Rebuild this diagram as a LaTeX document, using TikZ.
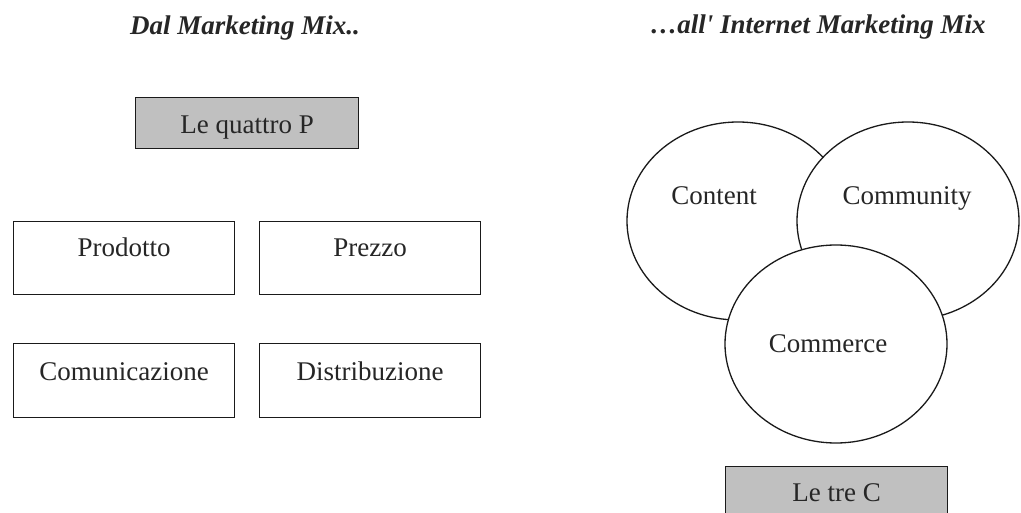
\documentclass[tikz,border=0pt]{standalone}
\usepackage{fontspec}
\setmainfont{Liberation Serif}
\usetikzlibrary{shapes.geometric}
\definecolor{boxgray}{HTML}{C0C0C0}
\definecolor{inkline}{HTML}{1A1A1A}
\begin{document}
\begin{tikzpicture}[x=1bp, y=-1bp,
  every node/.style={font=\fontsize{27bp}{32bp}\selectfont, text=black!85},
  title/.style={anchor=base, font=\fontsize{27bp}{32bp}\selectfont\bfseries\itshape},
  pbox/.style={draw=inkline, line width=1.3bp, inner sep=0pt, anchor=north west,
    minimum width=221bp, text height=35bp, text depth=38bp},
  graybox/.style={pbox, fill=boxgray, minimum width=223bp},
  ring/.style={ellipse, draw=inkline, line width=1.3bp, fill=white, inner sep=0pt,
    minimum width=222bp, minimum height=198bp},
  lbl/.style={anchor=base, inner sep=0pt}]
  \useasboundingbox (0,0) rectangle (1021,513);
  \clip (0,0) rectangle (1021,513);
  \fill[white] (0,0) rectangle (1021,513);

  % headings
  \node[title] (tleft) at (245,35) {Dal Marketing Mix..};
  \node[title] (tright) at (818,34) {…all\textquotesingle\ Internet Marketing Mix};

  % the four P
  \node[graybox, text height=36bp, text depth=15bp] (quattro) at (135,97) {Le quattro P};
  \node[pbox] (prodotto) at (13,221) {Prodotto};
  \node[pbox] (prezzo) at (259,221) {Prezzo};
  \node[pbox, text height=37bp, text depth=37bp] (comunic) at (13,343) {Comunicazione};
  \node[pbox, text height=37bp, text depth=37bp] (distrib) at (259,343) {Distribuzione};

  % the three C
  \node[ring] (content) at (738,221) {};
  \node[ring] (community) at (908,221) {};
  \node[ring] (commerce) at (836,344) {};
  \node[lbl] (contentlbl) at (714,205) {Content};
  \node[lbl] (communitylbl) at (907,205) {Community};
  \node[lbl] (commercelbl) at (828,353) {Commerce};
  \node[graybox, minimum width=222bp, text height=35bp, text depth=32bp] (tre) at (725,466) {Le tre C};
\end{tikzpicture}
\end{document}
